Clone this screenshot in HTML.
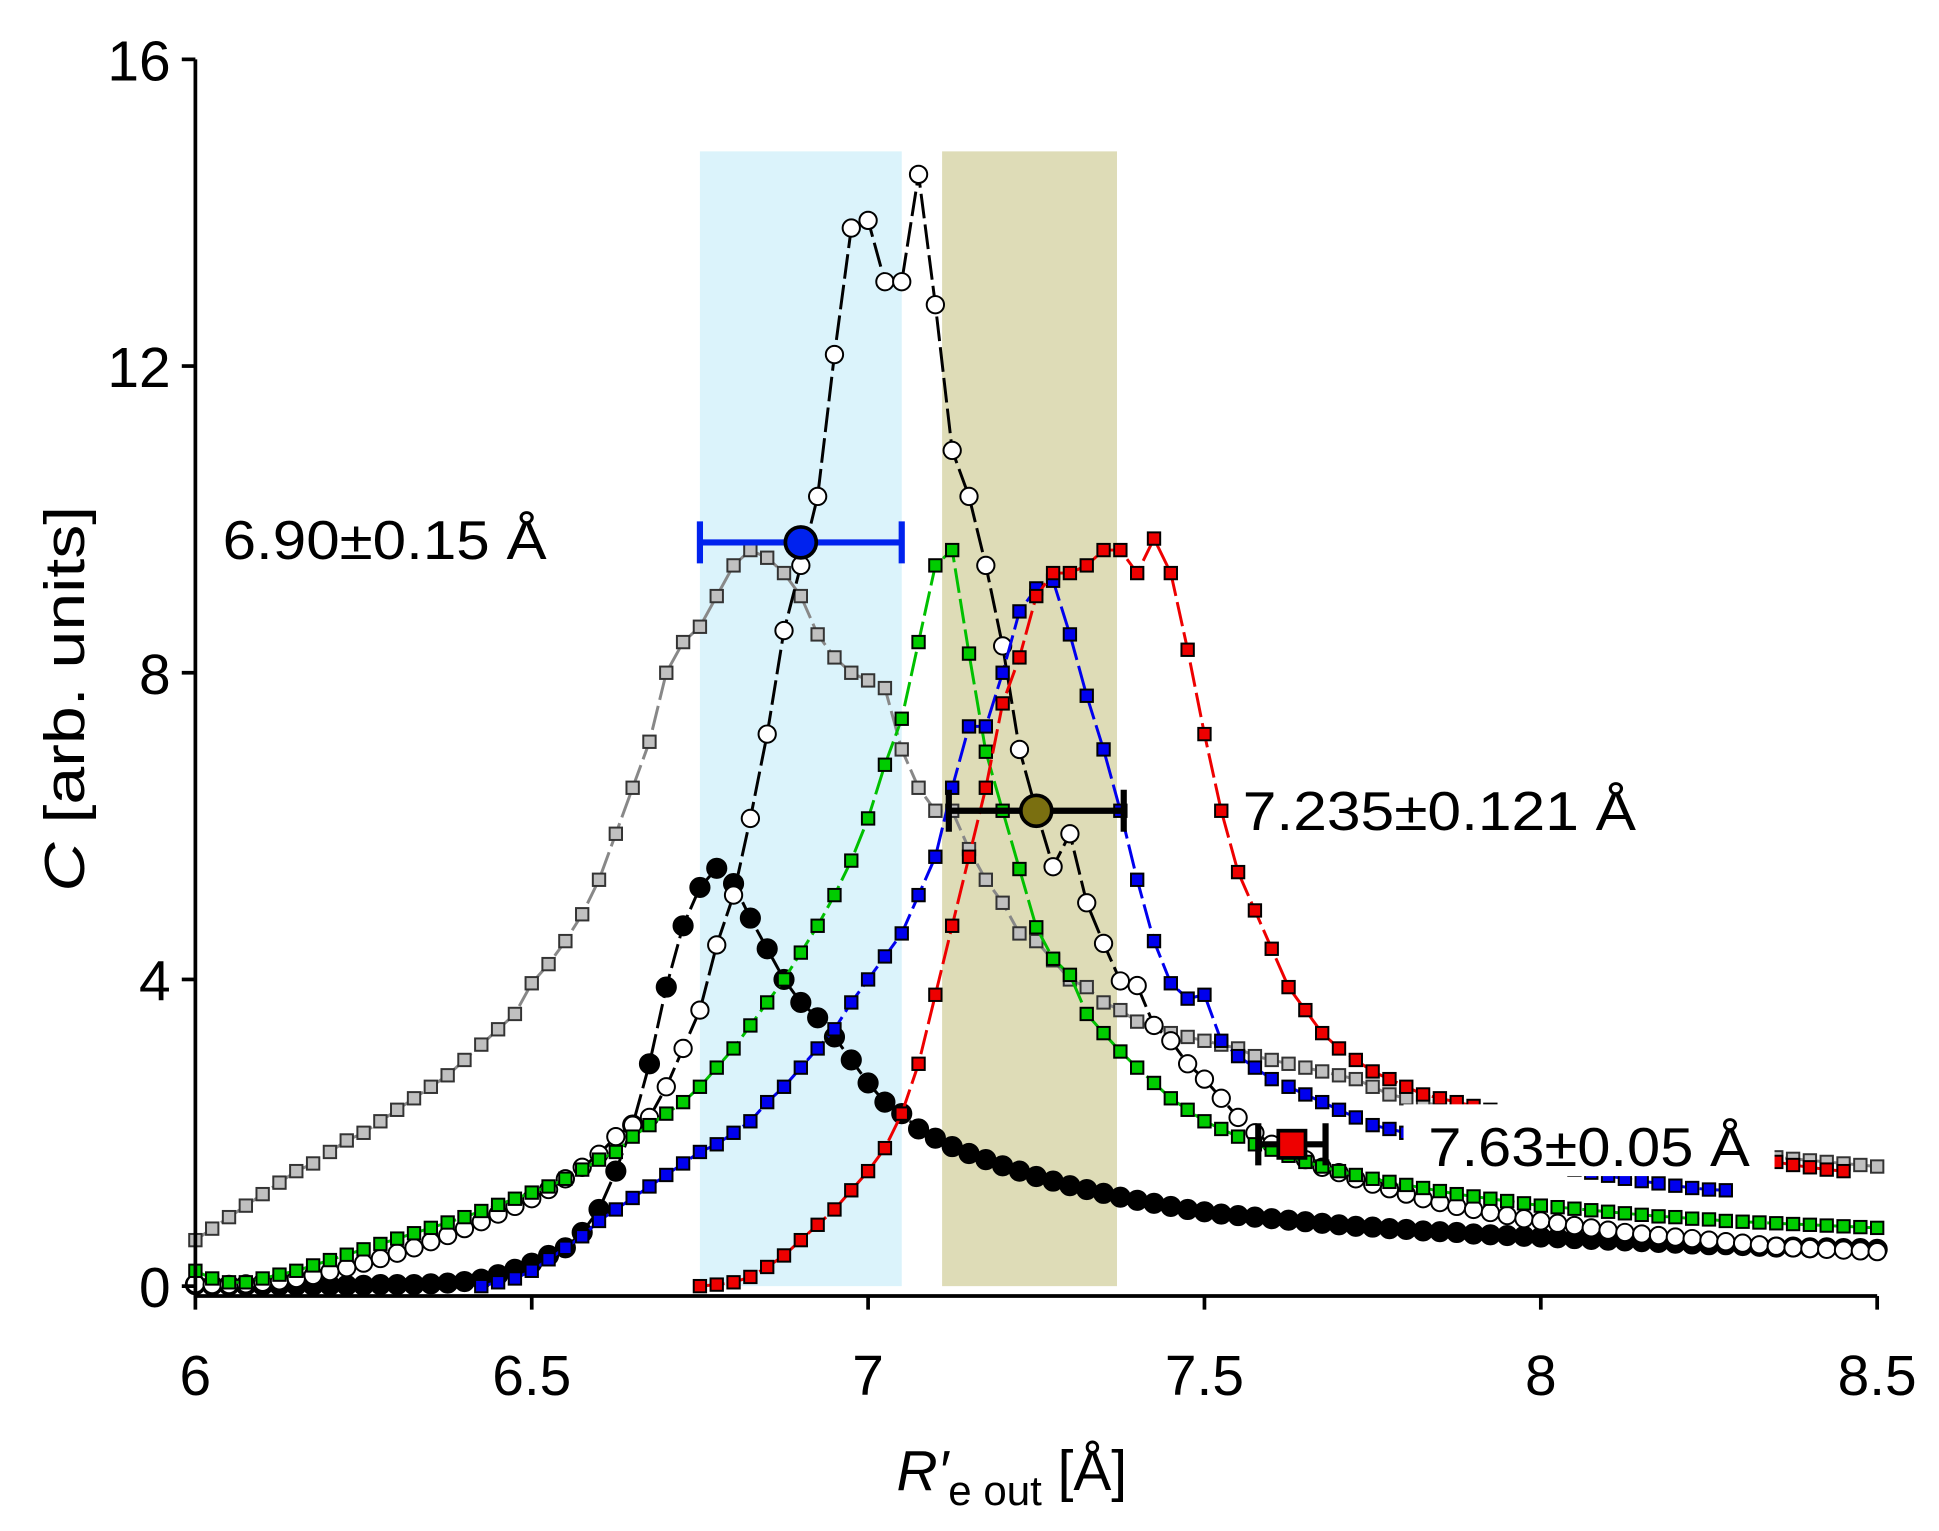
<!DOCTYPE html>
<html><head><meta charset="utf-8"><style>
html,body{margin:0;padding:0;background:#fff;}
svg{display:block;font-family:"Liberation Sans",Arial,sans-serif;}
</style></head><body>
<svg id="chart" width="1939" height="1531" viewBox="0 0 1568 1238" preserveAspectRatio="none" xmlns="http://www.w3.org/2000/svg">
<g id="bands"></g>
<g id="series"></g>
<g id="overlay"></g>
<g id="axes"></g>
</svg>
<script>
const xTicks=[6,6.5,7,7.5,8,8.5];
const xTickLabels=["6","6.5","7","7.5","8","8.5"];
const yTicks=[0,4,8,12,16];
const yTickLabels=["0","4","8","12","16"];
const step=0.025;
const greyStart=6.0;
const greyVals=[0.6,0.75,0.9,1.05,1.2,1.35,1.5,1.6,1.75,1.9,2.0,2.15,2.3,2.45,2.6,2.75,2.95,3.15,3.35,3.55,3.95,4.2,4.5,4.85,5.3,5.9,6.5,7.1,8.0,8.4,8.6,9.0,9.4,9.6,9.5,9.3,9.0,8.5,8.2,8.0,7.9,7.8,7.0,6.5,6.2,6.2,5.7,5.3,5.0,4.6,4.5,4.25,4.0,3.9,3.7,3.6,3.45,3.4,3.3,3.25,3.2,3.15,3.1,3.0,2.95,2.9,2.85,2.8,2.75,2.7,2.6,2.5,2.45,2.4,2.35,2.3,2.25,2.2,2.15,2.1,2.05,2.0,1.98,1.95,1.92,1.9,1.87,1.85,1.82,1.8,1.78,1.75,1.72,1.7,1.68,1.66,1.64,1.62,1.6,1.58,1.56];
const openStart=6.0;
const openVals=[0.03,0.02,0.02,0.03,0.05,0.07,0.1,0.14,0.19,0.24,0.3,0.36,0.43,0.5,0.58,0.66,0.75,0.84,0.94,1.04,1.14,1.26,1.4,1.55,1.72,1.95,2.1,2.2,2.6,3.1,3.6,4.45,5.1,6.1,7.2,8.55,9.4,10.3,12.15,13.8,13.9,13.1,13.1,14.5,12.8,10.9,10.3,9.4,8.35,7.0,6.2,5.47,5.9,5.0,4.47,3.98,3.92,3.4,3.2,2.9,2.7,2.45,2.2,2.0,1.85,1.75,1.65,1.55,1.48,1.4,1.33,1.27,1.2,1.14,1.09,1.04,1.0,0.96,0.92,0.88,0.85,0.82,0.79,0.76,0.73,0.7,0.68,0.66,0.64,0.62,0.6,0.58,0.56,0.54,0.52,0.5,0.49,0.48,0.47,0.46,0.45];
const blackStart=6.0;
const blackVals=[0.02,0.01,0.01,0.01,0.01,0.01,0.01,0.01,0.01,0.01,0.01,0.02,0.02,0.02,0.03,0.04,0.06,0.09,0.15,0.22,0.3,0.4,0.5,0.7,1.0,1.5,2.1,2.9,3.9,4.7,5.2,5.45,5.25,4.8,4.4,4.0,3.7,3.5,3.25,2.95,2.65,2.4,2.25,2.05,1.93,1.82,1.73,1.65,1.57,1.5,1.43,1.37,1.31,1.26,1.21,1.16,1.12,1.08,1.04,1.0,0.97,0.94,0.92,0.9,0.88,0.86,0.84,0.82,0.8,0.78,0.77,0.75,0.74,0.72,0.71,0.7,0.68,0.67,0.66,0.65,0.64,0.63,0.62,0.61,0.6,0.59,0.58,0.57,0.56,0.55,0.54,0.54,0.53,0.52,0.51,0.51,0.5,0.5,0.49,0.49,0.48];
const greenStart=6.0;
const greenVals=[0.2,0.1,0.05,0.05,0.1,0.15,0.2,0.27,0.34,0.41,0.48,0.55,0.62,0.69,0.76,0.83,0.9,0.98,1.06,1.14,1.22,1.3,1.4,1.52,1.65,1.75,1.95,2.1,2.25,2.4,2.6,2.85,3.1,3.4,3.7,4.0,4.35,4.7,5.1,5.55,6.1,6.8,7.4,8.4,9.4,9.6,8.25,6.97,6.2,5.44,4.68,4.27,4.06,3.55,3.3,3.06,2.85,2.65,2.45,2.3,2.15,2.05,1.95,1.85,1.78,1.7,1.62,1.56,1.5,1.45,1.4,1.36,1.32,1.28,1.24,1.2,1.17,1.14,1.11,1.08,1.05,1.03,1.01,0.99,0.97,0.95,0.93,0.91,0.9,0.88,0.87,0.85,0.84,0.83,0.82,0.81,0.8,0.79,0.78,0.77,0.76];
const blueStart=6.425;
const blueVals=[0.0,0.05,0.1,0.2,0.35,0.5,0.65,0.85,1.0,1.15,1.3,1.45,1.6,1.75,1.85,2.0,2.15,2.4,2.6,2.85,3.1,3.35,3.7,4.0,4.3,4.6,5.1,5.6,6.5,7.3,7.3,8.0,8.8,9.1,9.2,8.5,7.7,7.0,6.2,5.3,4.5,3.95,3.75,3.8,3.2,3.0,2.85,2.7,2.6,2.5,2.4,2.3,2.2,2.1,2.05,2.0,1.95,1.9,1.85,1.8,1.75,1.7,1.65,1.6,1.56,1.52,1.48,1.44,1.4,1.37,1.34,1.31,1.28,1.26,1.25];
const redStart=6.75;
const redVals=[0.0,0.02,0.05,0.12,0.25,0.4,0.6,0.8,1.0,1.25,1.5,1.8,2.25,2.9,3.8,4.7,5.6,6.5,7.6,8.2,9.0,9.3,9.3,9.4,9.6,9.6,9.3,9.75,9.3,8.3,7.2,6.2,5.4,4.9,4.4,3.9,3.6,3.3,3.1,2.95,2.8,2.7,2.6,2.5,2.45,2.4,2.35,2.3,2.27,2.24,2.2,2.15,2.1,2.05,2.0,1.96,1.92,1.88,1.84,1.8,1.76,1.72,1.68,1.65,1.62,1.58,1.55,1.52,1.5];
const bandRanges=[[6.75,7.05],[7.11,7.37]];
const bandTop=14.8;
const errX=[6.90,7.25,7.63];
const errDX=[0.15,0.13,0.05];
const errY=[9.7,6.2,1.85];

const X0=158,X1=1518,Y0=1040,Y1=48;
function sx(v){return X0+(v-6)/(8.5-6)*(X1-X0);}
function sy(v){return Y0-(v/16)*(Y0-Y1);}
const NS="http://www.w3.org/2000/svg";
function mk(tag,parent){const e=document.createElementNS(NS,tag);parent.appendChild(e);return e;}
const bands=document.getElementById('bands'),series=document.getElementById('series'),overlay=document.getElementById('overlay'),axes=document.getElementById('axes');

const bandColors=["#dbf3fb","#dedcb7"];
bandRanges.forEach((r,i)=>{
  const b=mk('rect',bands);
  
  
  b.setAttribute('x',sx(r[0]));b.setAttribute('width',sx(r[1])-sx(r[0]));
  b.setAttribute('y',sy(bandTop));b.setAttribute('height',sy(0)-sy(bandTop));
  b.setAttribute('fill',bandColors[i]);
});

function drawSeries(name,start,vals,lineColor,fill,stroke,shape,size){
  const g=mk('g',series);
  
  
  const pts=vals.map((v,i)=>[sx(start+i*step),sy(v)]);
  const p=mk('polyline',g);
  
  
  p.setAttribute('points',pts.map(q=>q.join(',')).join(' '));
  p.setAttribute('fill','none');p.setAttribute('stroke',lineColor);p.setAttribute('stroke-width','2.4');
  p.setAttribute('stroke-dasharray','20 5');
  pts.forEach(q=>{
    let m;
    if(shape==='sq'){m=mk('rect',g);m.setAttribute('x',q[0]-size/2);m.setAttribute('y',q[1]-size/2);m.setAttribute('width',size);m.setAttribute('height',size);}
    else{m=mk('circle',g);m.setAttribute('cx',q[0]);m.setAttribute('cy',q[1]);m.setAttribute('r',size/2);}
    
    
    m.setAttribute('fill',fill);m.setAttribute('stroke',stroke);m.setAttribute('stroke-width','1.6');
  });
}
drawSeries('series-black-dots',blackStart,blackVals,'#000','#000','#000','c',15.5);
drawSeries('series-grey-squares',greyStart,greyVals,'#888','#c0c0c0','#333','sq',10);
drawSeries('series-open-circles',openStart,openVals,'#000','#fff','#000','c',14);
drawSeries('series-green-squares',greenStart,greenVals,'#00c000','#00cc00','#000','sq',10);
drawSeries('series-blue-squares',blueStart,blueVals,'#0000ee','#0000ee','#000','sq',10);
drawSeries('series-red-squares',redStart,redVals,'#ee0000','#ee0000','#000','sq',10);

const wb=mk('rect',overlay);


wb.setAttribute('x',1135);wb.setAttribute('y',893);wb.setAttribute('width',300);wb.setAttribute('height',58);wb.setAttribute('fill','#fff');

const errColors=["#0022ee","#000","#000"];
const errFill=["#0022ee","#7a6f10","#ee0000"];
const errNames=["errorbar-690","errorbar-7235","errorbar-763"];
errX.forEach((x,i)=>{
  const g=mk('g',overlay);
  
  
  const xl=sx(x-errDX[i]),xr=sx(x+errDX[i]),y=sy(errY[i]);
  const l=mk('line',g);l.setAttribute('x1',xl);l.setAttribute('x2',xr);l.setAttribute('y1',y);l.setAttribute('y2',y);l.setAttribute('stroke',errColors[i]);l.setAttribute('stroke-width',5);
  [xl,xr].forEach(xx=>{const c=mk('line',g);c.setAttribute('x1',xx);c.setAttribute('x2',xx);c.setAttribute('y1',y-17);c.setAttribute('y2',y+17);c.setAttribute('stroke',errColors[i]);c.setAttribute('stroke-width',5);});
  let m;
  if(i===2){m=mk('rect',g);m.setAttribute('x',sx(x)-11);m.setAttribute('y',y-11);m.setAttribute('width',22);m.setAttribute('height',22);}
  else{m=mk('circle',g);m.setAttribute('cx',sx(x));m.setAttribute('cy',y);m.setAttribute('r',12.5);}
  m.setAttribute('fill',errFill[i]);m.setAttribute('stroke','#000');m.setAttribute('stroke-width',3);
});

function txt(parent,x,y,s,size,anchor,name,len){
  const t=mk('text',parent);t.setAttribute('x',x);t.setAttribute('y',y);t.setAttribute('font-size',size);
  t.setAttribute('text-anchor',anchor||'start');t.textContent=s;
  if(len){t.setAttribute('textLength',len);t.setAttribute('lengthAdjust','spacingAndGlyphs');}
  
  
  return t;
}
txt(overlay,180,452,'6.90±0.15 Å',44,'start','annotation-690',262);
txt(overlay,1005,671,'7.235±0.121 Å',44,'start','annotation-7235',318);
txt(overlay,1155,943,'7.63±0.05 Å',44,'start','annotation-763',260);

const ya=mk('line',axes);
ya.setAttribute('x1',X0);ya.setAttribute('x2',X0);ya.setAttribute('y1',Y1);ya.setAttribute('y2',1048);ya.setAttribute('stroke','#000');ya.setAttribute('stroke-width',3);
const xa=mk('line',axes);
xa.setAttribute('x1',X0-1.5);xa.setAttribute('x2',X1);xa.setAttribute('y1',1048);xa.setAttribute('y2',1048);xa.setAttribute('stroke','#000');xa.setAttribute('stroke-width',3);
yTicks.forEach((v,i)=>{
  const t=mk('line',axes);
  t.setAttribute('x1',X0-11);t.setAttribute('x2',X0);t.setAttribute('y1',sy(v));t.setAttribute('y2',sy(v));t.setAttribute('stroke','#000');t.setAttribute('stroke-width',3);
  txt(axes,X0-20,sy(v)+17,yTickLabels[i],46,'end','y-tick-label');
});
xTicks.forEach((v,i)=>{
  const t=mk('line',axes);
  t.setAttribute('x1',sx(v));t.setAttribute('x2',sx(v));t.setAttribute('y1',1048);t.setAttribute('y2',1059);t.setAttribute('stroke','#000');t.setAttribute('stroke-width',3);
  txt(axes,sx(v),1128,xTickLabels[i],46,'middle','x-tick-label');
});
const yt=mk('text',axes);
yt.setAttribute('transform','translate(68,565) rotate(-90)');yt.setAttribute('font-size',46);yt.setAttribute('text-anchor','middle');
yt.setAttribute('textLength',312);yt.setAttribute('lengthAdjust','spacingAndGlyphs');
yt.innerHTML='<tspan font-style="italic">C</tspan>  [arb. units]';
const xt=mk('text',axes);
xt.setAttribute('x',725);xt.setAttribute('y',1205);xt.setAttribute('font-size',46);
xt.innerHTML='<tspan font-style="italic">R′</tspan><tspan font-size="34" dy="12">e out</tspan><tspan dy="-12">  [Å]</tspan>';
</script>
</body></html>
